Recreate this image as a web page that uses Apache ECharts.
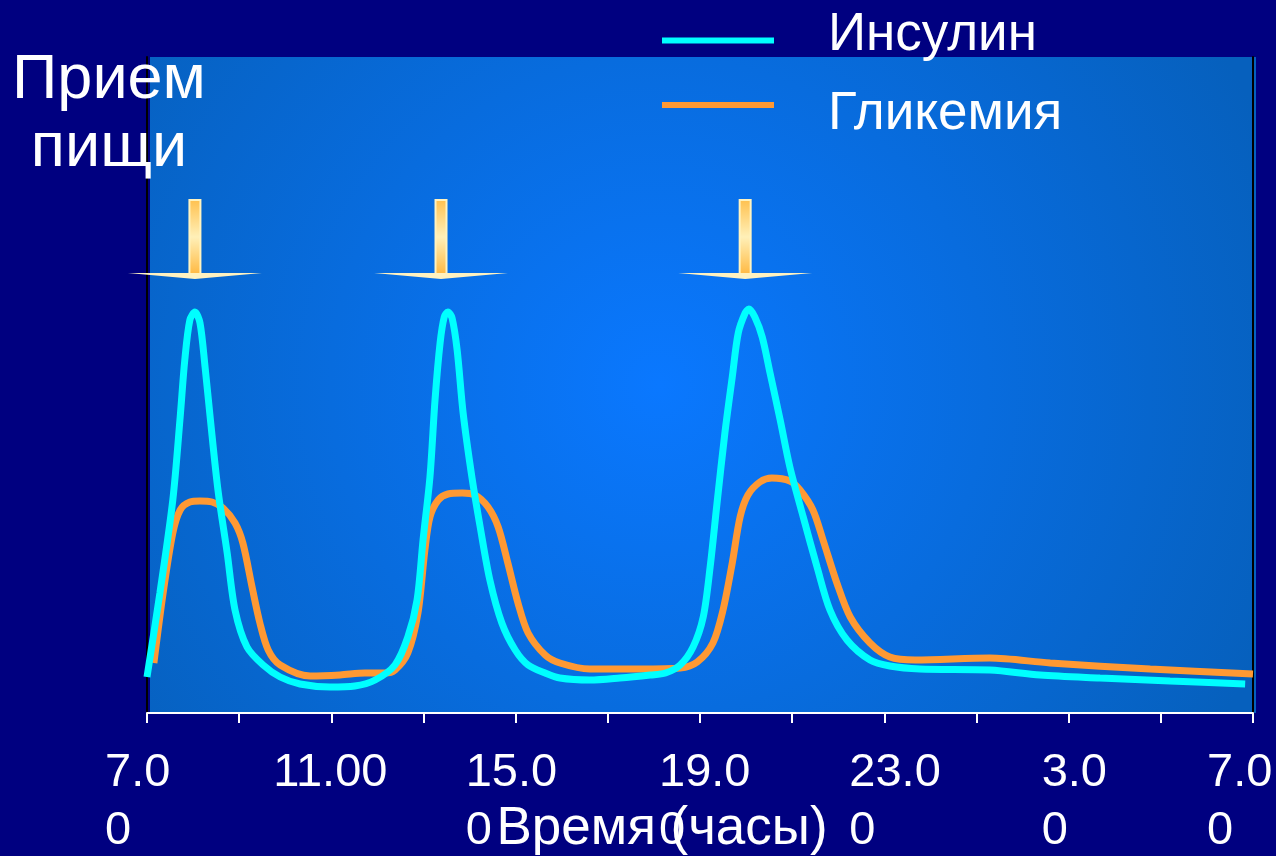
<!DOCTYPE html>
<html>
<head>
<meta charset="utf-8">
<style>
  html, body { margin: 0; padding: 0; background: #000080; }
  #chart { width: 1276px; height: 856px; }
</style>
<script src="https://cdn.jsdelivr.net/npm/echarts@6/dist/echarts.min.js"></script>
</head>
<body>
<div id="chart"></div>
<script>
// hours since midnight of the first day (31 = 7.00 next morning), levels in arbitrary units
const insulinHours = [7.00, 7.28, 7.56, 7.72, 7.82, 7.93, 8.04, 8.15, 8.26, 8.37, 8.54, 8.74, 8.91, 9.17, 9.52, 9.89, 10.32, 10.97, 11.51, 11.95, 12.38, 12.66, 12.86, 12.99, 13.14, 13.25, 13.36, 13.45, 13.53, 13.62, 13.73, 13.86, 14.05, 14.23, 14.44, 14.70, 14.99, 15.27, 15.64, 15.96, 16.61, 17.26, 17.92, 18.25, 18.57, 18.85, 19.07, 19.22, 19.37, 19.54, 19.70, 19.83, 19.98, 20.06, 20.19, 20.35, 20.52, 20.74, 20.95, 21.24, 21.54, 21.82, 22.19, 22.69, 23.12, 23.77, 25.29, 26.38, 27.68, 29.20, 30.83]
const insulinLevels = [36, 120, 213, 296, 353, 393, 401, 390, 346, 296, 223, 160, 103, 66, 48, 36, 29, 26, 27, 33, 48, 76, 113, 173, 236, 313, 370, 396, 401, 395, 363, 300, 236, 186, 133, 90, 63, 48, 40, 35, 33, 35, 38, 40, 48, 66, 96, 146, 210, 280, 336, 380, 400, 404, 396, 376, 340, 293, 246, 196, 146, 103, 73, 53, 47, 44, 43, 38, 35, 32, 29]
const glucoseHours = [7.15, 7.35, 7.56, 7.72, 7.93, 8.15, 8.41, 8.65, 8.91, 9.08, 9.28, 9.45, 9.63, 9.89, 10.54, 11.19, 11.73, 12.16, 12.38, 12.66, 12.88, 13.03, 13.14, 13.32, 13.53, 13.84, 14.12, 14.40, 14.62, 14.83, 15.05, 15.27, 15.64, 15.96, 16.61, 17.70, 18.57, 18.94, 19.28, 19.50, 19.70, 19.87, 20.04, 20.30, 20.56, 20.95, 21.17, 21.45, 21.67, 21.97, 22.26, 22.69, 23.12, 23.67, 25.29, 26.60, 28.77, 31.00]
const glucoseLevels = [50, 120, 180, 203, 211, 212, 211, 205, 190, 170, 126, 90, 63, 48, 37, 38, 40, 40, 43, 60, 100, 163, 196, 213, 219, 220, 218, 206, 186, 150, 110, 80, 58, 50, 44, 44, 45, 51, 70, 103, 150, 196, 218, 231, 235, 232, 223, 203, 173, 130, 96, 70, 56, 53, 55, 50, 44, 39]
const mealHours = [8.04, 13.38, 19.98]
const mealLevel = 434
const tickHours = [7, 11, 15, 19, 23, 27, 31]
const tickLabels = ['7.0\n0', '11.00', '15.0\n0', '19.0\n0', '23.0\n0', '3.0\n0', '7.0\n0']
const tickLabelWidths = [84, 116, 100, 82, 70, 54, 92]

const FONT = '"Liberation Sans", Arial, sans-serif'
const chart = echarts.init(document.getElementById('chart'))

function zip(xs, ys) {
  return xs.map((x, i) => [x, ys[i]])
}

const labelRich = {}
tickLabelWidths.forEach((w, i) => {
  labelRich['t' + i] = { width: w, align: 'left', fontSize: 47, lineHeight: 58, color: '#fff', fontFamily: FONT }
})

function legendRich(spacerHeight) {
  return {
    a: { color: '#fff', fontSize: 53, lineHeight: 60, fontFamily: FONT },
    s: { fontSize: 10, lineHeight: spacerHeight }
  }
}

function renderMeal(params, api) {
  const p = api.coord([api.value(0), api.value(1)])
  const fill = new echarts.graphic.LinearGradient(0, 0, 0, 1, [
    { offset: 0, color: '#ffc04d' },
    { offset: 0.5, color: '#fff0b8' },
    { offset: 1, color: '#ffb840' }
  ])
  return {
    type: 'group',
    children: [
      {
        type: 'rect',
        shape: { x: p[0] - 5.5, y: p[1] - 79, width: 11, height: 74 },
        style: { fill: fill, stroke: '#fff3c0', lineWidth: 2 }
      },
      {
        type: 'polygon',
        shape: { points: [[p[0] - 67, p[1] - 6], [p[0] + 67, p[1] - 6], [p[0], p[1]]] },
        style: { fill: '#fff2c0' }
      }
    ]
  }
}

chart.setOption({
  backgroundColor: '#000080',
  animation: false,
  title: [
    {
      text: 'Прием\nпищи',
      left: 104,
      top: 42,
      textAlign: 'center',
      textStyle: { color: '#fff', fontSize: 63, fontWeight: 'normal', lineHeight: 68, fontFamily: FONT }
    }
  ],
  graphic: [
    {
      type: 'rect',
      z: -10,
      silent: true,
      shape: { x: 150, y: 57, width: 1106, height: 656 },
      style: {
        fill: new echarts.graphic.RadialGradient(0.46, 0.5, 1.0, [
          { offset: 0, color: '#0a78ff' },
          { offset: 1, color: '#0660bd' }
        ])
      }
    }
  ],
  legend: [
    {
      data: ['Инсулин'],
      left: 662,
      top: 9,
      padding: 0,
      icon: 'rect',
      itemWidth: 112,
      itemHeight: 6,
      itemGap: 0,
      selectedMode: false,
      formatter: name => `{a|${name}}\n{s| }`,
      textStyle: { color: '#fff', fontSize: 53, fontFamily: FONT, padding: [0, 0, 0, 49], rich: legendRich(10) }
    },
    {
      data: ['Гликемия'],
      left: 662,
      top: 70,
      padding: 0,
      icon: 'rect',
      itemWidth: 112,
      itemHeight: 6,
      itemGap: 0,
      selectedMode: false,
      formatter: name => `{s| }\n{a|${name}}`,
      textStyle: { color: '#fff', fontSize: 53, fontFamily: FONT, padding: [0, 0, 0, 49], rich: legendRich(18) }
    }
  ],
  grid: { left: 147, right: 23, top: 57, bottom: 143, outerBoundsMode: 'none' },
  xAxis: {
    type: 'value',
    min: 7,
    max: 31,
    interval: 2,
    name: 'Время (часы)',
    nameLocation: 'middle',
    nameGap: 90,
    nameMoveOverlap: false,
    nameTextStyle: { color: '#fff', fontSize: 53, fontFamily: FONT, padding: [0, 76, 0, 0] },
    splitLine: { show: false },
    axisLine: { lineStyle: { color: '#fff', width: 2 } },
    axisTick: { length: 10, lineStyle: { color: '#fff', width: 2 } },
    axisLabel: {
      margin: 31,
      hideOverlap: false,
      showMinLabel: true,
      showMaxLabel: true,
      rich: labelRich,
      formatter: function (value) {
        const i = tickHours.indexOf(value)
        if (i < 0) return ''
        return tickLabels[i].split('\n').map(s => `{t${i}|${s}}`).join('\n')
      }
    }
  },
  yAxis: [
    {
      type: 'value',
      min: 0,
      max: 656,
      axisLine: { show: true, lineStyle: { color: '#000', width: 2 } },
      axisTick: { show: false },
      axisLabel: { show: false },
      splitLine: { show: false }
    },
    {
      type: 'value',
      position: 'right',
      min: 0,
      max: 656,
      axisLine: { show: true, lineStyle: { color: '#000', width: 2 } },
      axisTick: { show: false },
      axisLabel: { show: false },
      splitLine: { show: false }
    }
  ],
  series: [
    {
      name: 'Гликемия',
      type: 'line',
      data: zip(glucoseHours, glucoseLevels),
      smooth: 0.3,
      showSymbol: false,
      z: 2,
      clip: false,
      itemStyle: { color: '#ff9933' },
      lineStyle: { color: '#ff9933', width: 7 }
    },
    {
      name: 'Инсулин',
      type: 'line',
      data: zip(insulinHours, insulinLevels),
      smooth: 0.3,
      showSymbol: false,
      z: 3,
      clip: false,
      itemStyle: { color: '#00ffff' },
      lineStyle: { color: '#00ffff', width: 7 }
    },
    {
      type: 'custom',
      data: mealHours.map(h => [h, mealLevel]),
      renderItem: renderMeal,
      silent: true,
      clip: false,
      z: 4
    }
  ]
})
</script>
</body>
</html>
